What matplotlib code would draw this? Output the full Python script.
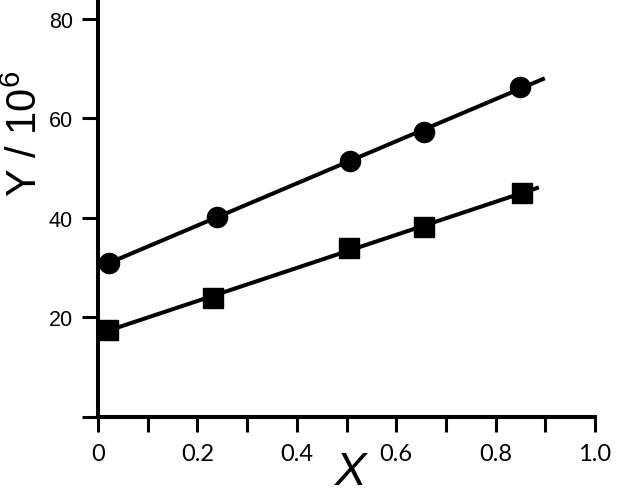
import matplotlib.pyplot as plt
import numpy as np

# values
x_circle = [0.022, 0.239, 0.507, 0.656, 0.849]
y_circle = [31.0, 40.2, 51.5, 57.3, 66.3]
x_square = [0.020, 0.231, 0.505, 0.656, 0.853]
y_square = [17.5, 23.9, 34.0, 38.2, 45.0]
line_range_circle = [0.022, 0.899]
line_range_square = [0.020, 0.887]

x_ticks = [0, 0.1, 0.2, 0.3, 0.4, 0.5, 0.6, 0.7, 0.8, 0.9, 1.0]
x_ticklabels = ['0', '', '0.2', '', '0.4', '', '0.6', '', '0.8', '', '1.0']
y_ticks = [0, 20, 40, 60, 80]
y_ticklabels = ['', '20', '40', '60', '80']

plt.rcParams['mathtext.fontset'] = 'custom'
plt.rcParams['mathtext.rm'] = 'Liberation Sans'
plt.rcParams['mathtext.default'] = 'regular'

W, H = 622, 489
fig = plt.figure(figsize=(W / 100, H / 100), dpi=100)
ax = fig.add_axes([98 / W, (H - 418) / H, 497 / W, 415 / H])

# straight-line fits through each series
for xs, ys, rng in [(x_circle, y_circle, line_range_circle),
                    (x_square, y_square, line_range_square)]:
    k, b = np.polyfit(xs, ys, 1)
    xx = np.array(rng)
    ax.plot(xx, k * xx + b, color='black', lw=2.9, solid_capstyle='butt', zorder=2)

ax.plot(x_circle, y_circle, 'o', color='black', ms=14.5, zorder=3, clip_on=False)
ax.plot(x_square, y_square, 's', color='black', ms=14.0, zorder=3, clip_on=False)

ax.set_xlim(0, 1.0)
ax.set_ylim(0, 83.4)
for s in ['top', 'right']:
    ax.spines[s].set_visible(False)
for s in ['left', 'bottom']:
    ax.spines[s].set_linewidth(2.9)

ax.set_xticks(x_ticks)
ax.set_xticklabels(x_ticklabels)
ax.set_yticks(y_ticks)
ax.set_yticklabels(y_ticklabels)
for t in ax.get_xticklabels():
    t.set_fontfamily('Lato')
    t.set_fontsize(17)
for t in ax.get_yticklabels():
    t.set_fontfamily('Liberation Sans')
    t.set_fontsize(15.5)
ax.tick_params(axis='x', direction='out', length=11, width=2.2, pad=8)
ax.tick_params(axis='y', direction='out', length=11.5, width=2.2, pad=6.5)

fig.text(351 / W, 4 / H, 'X', fontsize=34, fontstyle='italic',
         fontfamily='Liberation Sans', ha='center', va='baseline')
fig.text(37 / W, (H - 197) / H, 'Y / 10$^{6}$', fontsize=30,
         fontfamily='Liberation Sans', rotation=90, rotation_mode='anchor',
         ha='left', va='baseline')

fig.savefig('out.png', dpi=100)
